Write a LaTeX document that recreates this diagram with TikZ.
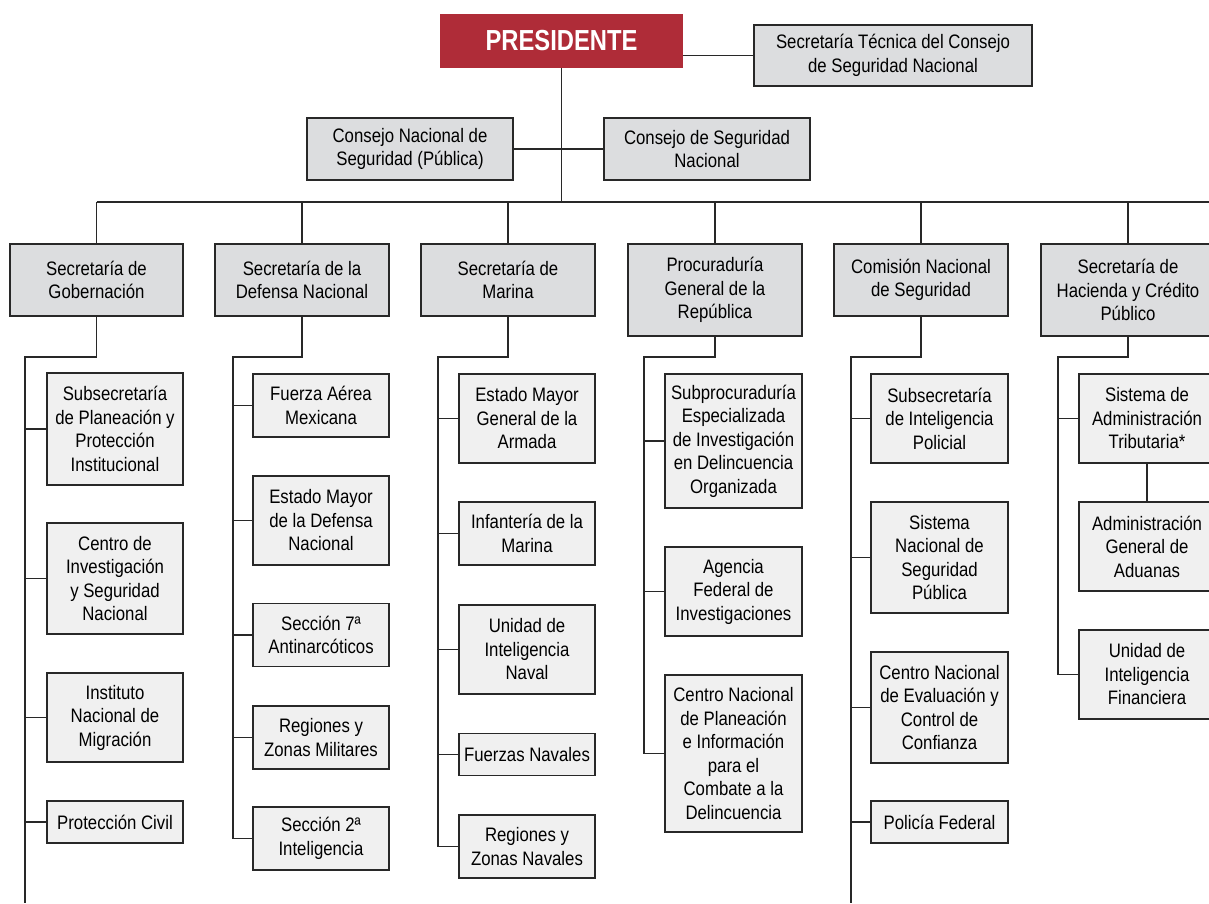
\documentclass[tikz,border=0pt]{standalone}
\usepackage{fontspec}
\setmainfont{Liberation Sans}[FakeStretch=0.86]
\newfontfamily\presfont{Liberation Sans}[FakeStretch=0.82]
\definecolor{presred}{RGB}{175,44,56}
\definecolor{lvltwo}{RGB}{220,221,223}
\definecolor{lvlthree}{RGB}{240,240,240}
\definecolor{linec}{RGB}{40,40,40}
\tikzset{
  boxbase/.style={draw=linec, line width=1.1pt, align=center, inner sep=0pt,
    font=\fontsize{19.5}{23.5}\selectfont, text=black},
  topbox/.style={boxbase, fill=lvltwo, minimum width=206pt, minimum height=62pt},
  secbox/.style={boxbase, fill=lvltwo, minimum width=174pt, minimum height=72pt},
  subbox/.style={boxbase, fill=lvlthree, minimum width=136pt},
  conn/.style={draw=linec, line width=1.2pt}
}
\begin{document}
\begin{tikzpicture}[x=1pt,y=-1pt]
\useasboundingbox (0,0) rectangle (1209,903);
\clip (0,0) rectangle (1209,903);
\fill[white] (0,0) rectangle (1209,903);

% top level
\node[fill=presred, minimum width=243pt, minimum height=54pt, inner sep=0pt,
  text=white, font=\presfont\bfseries\fontsize{29}{30}\selectfont] (pres) at (561.5,40.5) {PRESIDENTE};
\node[boxbase, fill=lvltwo, minimum width=278pt, minimum height=61pt] (stec) at (893,55.5)
  {Secretaría Técnica del Consejo\\de Seguridad Nacional};
\node[topbox] (cnsp) at (410,149) {Consejo Nacional de\\Seguridad (Pública)};
\node[topbox] (csn) at (707,149) {Consejo de Seguridad\\Nacional};

% second level
\node[secbox, minimum width=173pt] (gob) at (96.5,280) {Secretaría de\\Gobernación};
\node[secbox] (def) at (302,280) {Secretaría de la\\Defensa Nacional};
\node[secbox] (mar) at (508,280) {Secretaría de\\Marina};
\node[secbox, minimum height=92pt] (pgr) at (715,290) {Procuraduría\\General de la\\República};
\node[secbox] (cns) at (921,280) {Comisión Nacional\\de Seguridad};
\node[secbox, minimum height=92pt] (shcp) at (1128,290) {Secretaría de\\Hacienda y Crédito\\Público};

% Gobernación children
\node[subbox, minimum height=112pt] (g1) at (115,429) {Subsecretaría\\de Planeación y\\Protección\\Institucional};
\node[subbox, minimum height=111pt] (g2) at (115,578.5) {Centro de\\Investigación\\y Seguridad\\Nacional};
\node[subbox, minimum height=89pt] (g3) at (115,717.5) {Instituto\\Nacional de\\Migración};
\node[subbox, minimum height=42pt] (g4) at (115,822) {Protección Civil};

% Defensa children
\node[subbox, minimum height=63pt] (d1) at (321,405.5) {Fuerza Aérea\\Mexicana};
\node[subbox, minimum height=89pt] (d2) at (321,520.5) {Estado Mayor\\de la Defensa\\Nacional};
\node[subbox, minimum height=63pt] (d3) at (321,635) {Sección 7ª\\Antinarcóticos};
\node[subbox, minimum height=63pt] (d4) at (321,737.5) {Regiones y\\Zonas Militares};
\node[subbox, minimum height=63pt] (d5) at (321,838.5) {Sección 2ª\\Inteligencia};

% Marina children
\node[subbox, minimum height=89pt] (m1) at (527,418.5) {Estado Mayor\\General de la\\Armada};
\node[subbox, minimum height=63pt] (m2) at (527,533.5) {Infantería de la\\Marina};
\node[subbox, minimum height=89pt] (m3) at (527,649.5) {Unidad de\\Inteligencia\\Naval};
\node[subbox, minimum height=42pt] (m4) at (527,754.5) {Fuerzas Navales};
\node[subbox, minimum height=63pt] (m5) at (527,846.5) {Regiones y\\Zonas Navales};

% PGR children
\node[subbox, minimum width=137pt, minimum height=134pt] (p1) at (733.5,441) {Subprocuraduría\\Especializada\\de Investigación\\en Delincuencia\\Organizada};
\node[subbox, minimum width=137pt, minimum height=89pt] (p2) at (733.5,591.5) {Agencia\\Federal de\\Investigaciones};
\node[subbox, minimum width=137pt, minimum height=157pt] (p3) at (733.5,753.5) {Centro Nacional\\de Planeación\\e Información\\para el\\Combate a la\\Delincuencia};

% CNS children
\node[subbox, minimum width=137pt, minimum height=89pt] (c1) at (939.5,418.5) {Subsecretaría\\de Inteligencia\\Policial};
\node[subbox, minimum width=137pt, minimum height=111pt] (c2) at (939.5,557.5) {Sistema\\Nacional de\\Seguridad\\Pública};
\node[subbox, minimum width=137pt, minimum height=111pt] (c3) at (939.5,707.5) {Centro Nacional\\de Evaluación y\\Control de\\Confianza};
\node[subbox, minimum width=137pt, minimum height=42pt] (c4) at (939.5,822) {Policía Federal};

% SHCP children
\node[subbox, minimum height=89pt] (s1) at (1147,418.5) {Sistema de\\Administración\\Tributaria*};
\node[subbox, minimum height=89pt] (s2) at (1147,546.5) {Administración\\General de\\Aduanas};
\node[subbox, minimum height=89pt] (s3) at (1147,674.5) {Unidad de\\Inteligencia\\Financiera};

% coordinates
\coordinate (barL) at (96.5,202);
\coordinate (barR) at (1209,202);
\coordinate (gobj) at (25,357);
\coordinate (gobend) at (25,903);
\coordinate (defj) at (233,357);
\coordinate (marj) at (438,357);
\coordinate (pgrj) at (644,357);
\coordinate (cnsj) at (851,357);
\coordinate (cnsend) at (851,903);
\coordinate (shcpj) at (1058,357);

% top connectors
\draw[conn] (stec.west) -- (stec.west -| pres.east);
\draw[conn] (cnsp.east) -- (csn.west);
\draw[conn] (pres.south) -- (pres.south |- barL);
\draw[conn] (barL) -- (barR);
\foreach \n in {gob,def,mar,pgr,cns,shcp}
  \draw[conn] (\n.north) -- (\n.north |- barL);

% level 3 spines
\draw[conn] (gob.south) |- (gobj) -- (gobend);
\draw[conn] (def.south) |- (defj) -- (defj |- d5.west);
\draw[conn] (mar.south) |- (marj) -- (marj |- m5.west);
\draw[conn] (pgr.south) |- (pgrj) -- (pgrj |- p3.west);
\draw[conn] (cns.south) |- (cnsj) -- (cnsend);
\draw[conn] (shcp.south) |- (shcpj) -- (shcpj |- s3.west);

\foreach \n in {g1,g2,g3,g4} \draw[conn] (\n.west) -- (\n.west -| gobj);
\foreach \n in {d1,d2,d3,d4,d5} \draw[conn] (\n.west) -- (\n.west -| defj);
\foreach \n in {m1,m2,m3,m4,m5} \draw[conn] (\n.west) -- (\n.west -| marj);
\foreach \n in {p1,p2,p3} \draw[conn] (\n.west) -- (\n.west -| pgrj);
\foreach \n in {c1,c2,c3,c4} \draw[conn] (\n.west) -- (\n.west -| cnsj);
\foreach \n in {s1,s3} \draw[conn] (\n.west) -- (\n.west -| shcpj);
\draw[conn] (s1.south) -- (s2.north);
\end{tikzpicture}
\end{document}
